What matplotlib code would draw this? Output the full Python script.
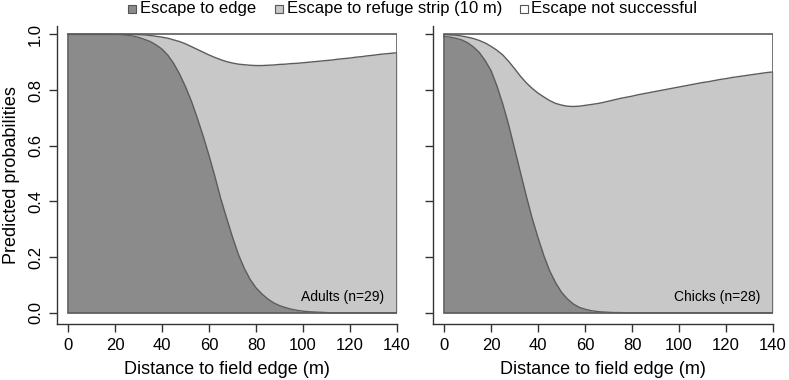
import matplotlib
matplotlib.use("Agg")
import matplotlib.pyplot as plt
from matplotlib.patches import Rectangle
import numpy as np

plt.rcParams['font.family'] = ['Liberation Sans', 'DejaVu Sans']

distance = np.arange(0, 140.1, 2.5)

# cumulative predicted probabilities (edge, edge + refuge strip)
adults_edge = [1.0, 1.0, 1.0, 1.0, 1.0, 1.0, 1.0, 1.0, 0.999, 0.998, 0.997, 0.994,
               0.989, 0.982, 0.974, 0.962, 0.947, 0.925, 0.895, 0.857, 0.812, 0.76,
               0.70, 0.635, 0.565, 0.49, 0.41, 0.34, 0.272, 0.21, 0.16, 0.12, 0.09,
               0.068, 0.05, 0.036, 0.026, 0.019, 0.013, 0.009, 0.006, 0.004, 0.003,
               0.002, 0.001, 0.0, 0.0, 0.0, 0.0, 0.0, 0.0, 0.0, 0.0, 0.0, 0.0, 0.0, 0.0]
adults_refuge = [1.0, 1.0, 1.0, 1.0, 1.0, 1.0, 1.0, 1.0, 1.0, 1.0, 1.0, 0.9995,
                 0.999, 0.998, 0.996, 0.993, 0.99, 0.986, 0.98, 0.974, 0.966, 0.956,
                 0.946, 0.936, 0.926, 0.917, 0.909, 0.902, 0.897, 0.893, 0.891,
                 0.889, 0.888, 0.888, 0.889, 0.89, 0.892, 0.893, 0.895, 0.896, 0.898,
                 0.9, 0.902, 0.904, 0.906, 0.908, 0.911, 0.913, 0.915, 0.918, 0.92,
                 0.923, 0.925, 0.928, 0.93, 0.932, 0.934]
chicks_edge = [0.992, 0.99, 0.986, 0.98, 0.97, 0.955, 0.935, 0.906, 0.87, 0.815,
               0.75, 0.675, 0.59, 0.505, 0.42, 0.34, 0.27, 0.205, 0.15, 0.108,
               0.074, 0.05, 0.032, 0.02, 0.013, 0.008, 0.005, 0.003, 0.002, 0.001,
               0.001, 0.0, 0.0, 0.0, 0.0, 0.0, 0.0, 0.0, 0.0, 0.0, 0.0, 0.0, 0.0,
               0.0, 0.0, 0.0, 0.0, 0.0, 0.0, 0.0, 0.0, 0.0, 0.0, 0.0, 0.0, 0.0, 0.0]
chicks_refuge = [0.999, 0.998, 0.997, 0.994, 0.99, 0.985, 0.978, 0.969, 0.957, 0.943,
                 0.926, 0.903, 0.877, 0.85, 0.826, 0.806, 0.789, 0.775, 0.762, 0.752,
                 0.746, 0.742, 0.741, 0.742, 0.745, 0.748, 0.751, 0.755, 0.76,
                 0.765, 0.77, 0.774, 0.778, 0.783, 0.787, 0.791, 0.795, 0.799,
                 0.803, 0.807, 0.811, 0.815, 0.819, 0.823, 0.827, 0.83, 0.834,
                 0.838, 0.841, 0.845, 0.848, 0.851, 0.854, 0.857, 0.86, 0.863, 0.865]

panel_labels = ["Adults (n=29)", "Chicks (n=28)"]
legend_labels = ["Escape to edge", "Escape to refuge strip (10 m)", "Escape not successful"]
x_ticks = [0, 20, 40, 60, 80, 100, 120, 140]
y_ticks = [0.0, 0.2, 0.4, 0.6, 0.8, 1.0]

dark = "#8b8b8b"
light = "#c8c8c8"
edgec = "#5c5c5c"
axc = "#333333"

W, H = 789, 380
fig = plt.figure(figsize=(W / 100, H / 100), dpi=100)

def px_axes(l, r, t, b):
    return fig.add_axes([l / W, 1 - b / H, (r - l) / W, (b - t) / H])

axes = [px_axes(57, 397, 26, 324), px_axes(433, 773, 26, 324)]
data = [(adults_edge, adults_refuge), (chicks_edge, chicks_refuge)]

for i, (ax, (e, r)) in enumerate(zip(axes, data)):
    x = distance
    e = np.array(e)
    r = np.array(r)
    ax.fill_between(x, 0, e, color=dark, lw=0)
    ax.fill_between(x, e, r, color=light, lw=0)
    ax.plot(x, e, color=edgec, lw=1.0)
    ax.plot(x, r, color=edgec, lw=1.0)
    ax.add_patch(Rectangle((0, 0), 140, 1, fill=False, ec=edgec, lw=1.2, zorder=3))
    ax.set_xlim(-4.7, 140)
    ax.set_ylim(-0.04, 1.03)
    for s in ['top', 'right']:
        ax.spines[s].set_visible(False)
    for s in ['left', 'bottom']:
        ax.spines[s].set_color(axc)
        ax.spines[s].set_linewidth(1.0)
    ax.set_xticks(x_ticks)
    ax.set_xticklabels([str(t) for t in x_ticks])
    ax.set_yticks(y_ticks)
    ax.tick_params(direction='out', length=6, width=1.0, color=axc,
                   labelsize=12, pad=4)
    ax.set_xlabel("Distance to field edge (m)", fontsize=13, labelpad=6)
    if i == 0:
        ax.set_yticklabels(["%.1f" % t for t in y_ticks], rotation=90, va='center')
        ax.set_ylabel("Predicted probabilities", fontsize=13, labelpad=6)
    else:
        ax.set_yticklabels([])
    ax.text(134.5, 0.057, panel_labels[i], ha='right', va='center', fontsize=10)

# legend along the top
items = [(127.5, 140, dark), (275, 287, light), (520, 531, "white")]
for (sx, tx, c), lab in zip(items, legend_labels):
    fig.patches.append(Rectangle((sx / W, 1 - 13 / H), 8 / W, 8 / H,
                                 transform=fig.transFigure, fc=c, ec="#555555",
                                 lw=0.8))
    fig.text(tx / W, 1 - 9 / H, lab, ha='left', va='center', fontsize=12)

fig.savefig("out.png", dpi=100)
